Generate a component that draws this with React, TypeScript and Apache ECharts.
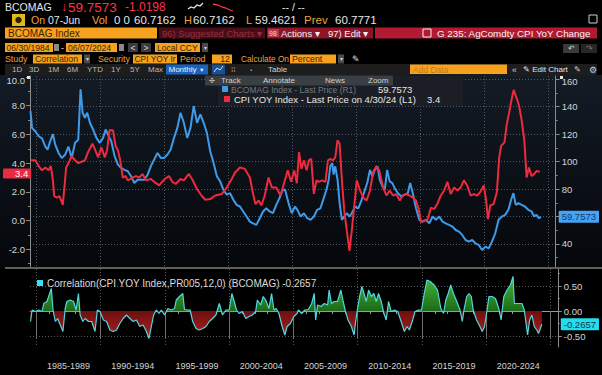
import React, { useEffect, useRef } from 'react';
import * as echarts from 'echarts';

// ---------- DATA ----------
const cpiDates = [
  1984.54, 1984.92, 1985.18, 1985.44, 1985.7, 1985.95, 1986.13, 1986.29, 1986.39, 1986.6,
  1986.8, 1986.98, 1987.06, 1987.24, 1987.32, 1987.5, 1987.76, 1988.02, 1988.27, 1988.53,
  1988.79, 1989.05, 1989.38, 1989.56, 1989.82, 1990.08, 1990.34, 1990.52, 1990.72, 1990.98,
  1991.19, 1991.37, 1991.55, 1991.75, 1991.96, 1992.14, 1992.53, 1992.78, 1993.04, 1993.3,
  1993.56, 1993.94, 1994.2, 1994.59, 1995.03, 1995.36, 1995.62, 1995.88, 1996.26, 1996.52,
  1996.91, 1997.16, 1997.55, 1997.94, 1998.2, 1998.58, 1998.97, 1999.48, 1999.87, 2000.26,
  2000.52, 2000.9, 2001.29, 2001.68, 2001.93, 2002.11, 2002.37, 2002.58, 2002.84, 2003.14,
  2003.4, 2003.74, 2004.07, 2004.38, 2004.64, 2004.9, 2005.15, 2005.35, 2005.52, 2005.7,
  2005.9, 2006.11, 2006.29, 2006.47, 2006.68, 2006.88, 2007.06, 2007.32, 2007.58, 2007.78,
  2007.96, 2008.17, 2008.35, 2008.53, 2008.69, 2008.87, 2009.05, 2009.25, 2009.46, 2009.64,
  2009.82, 2010.03, 2010.29, 2010.54, 2010.8, 2011.06, 2011.32, 2011.57, 2011.78, 2012.09,
  2012.35, 2012.6, 2012.86, 2013.12, 2013.38, 2013.63, 2013.89, 2014.15, 2014.41, 2014.66,
  2014.87, 2015.05, 2015.31, 2015.57, 2015.82, 2016.08, 2016.34, 2016.6, 2016.86, 2017.11,
  2017.37, 2017.63, 2017.89, 2018.14, 2018.4, 2018.66, 2018.92, 2019.18, 2019.43, 2019.69,
  2019.95, 2020.14, 2020.28, 2020.46, 2020.72, 2020.98, 2021.16, 2021.31, 2021.57, 2021.75,
  2021.93, 2022.14, 2022.29, 2022.53, 2022.71, 2022.91, 2023.12, 2023.3, 2023.48, 2023.69,
  2023.89, 2024.07, 2024.33,
];
const cpiValues = [
  4.2, 4.2, 3.8, 3.5, 3.7, 3.5, 3.8, 2.8, 1.7, 1.6,
  1.7, 1.3, 1.1, 2.8, 3.7, 4.0, 4.5, 4.2, 4.0, 4.1,
  4.2, 4.8, 5.35, 5.0, 4.4, 5.1, 4.4, 4.9, 6.3, 6.3,
  5.2, 4.9, 4.2, 3.0, 3.1, 2.8, 3.0, 3.1, 3.0, 3.25,
  2.8, 2.9, 2.7, 2.45, 2.9, 3.1, 2.7, 2.55, 2.9, 2.8,
  3.25, 2.9, 2.2, 1.7, 1.45, 1.5, 1.75, 1.85, 2.3, 2.9,
  3.35, 3.7, 3.6, 3.0, 1.85, 1.15, 1.4, 1.05, 1.75, 3.0,
  2.3, 2.3, 1.75, 2.7, 3.5, 2.7, 3.5, 2.6, 4.77, 3.6,
  4.2, 3.5, 4.2, 4.3, 1.86, 2.8, 2.7, 2.8, 2.7, 4.2,
  4.3, 4.2, 4.4, 5.6, 5.35, 2.8, 0.7, -0.7, -2.1, -0.7,
  0.9, 2.8, 2.1, 1.6, 1.4, 2.1, 3.4, 3.8, 3.5, 2.3,
  1.75, 2.1, 1.75, 1.85, 1.4, 1.75, 1.85, 1.75, 1.6, 1.4,
  0.8, -0.1, 0.0, 0.1, 0.9, 0.8, 1.2, 1.75, 2.1, 2.7,
  1.85, 2.3, 2.1, 2.3, 2.8, 2.45, 1.75, 1.85, 1.75, 2.0,
  2.45, 1.4, 0.1, 1.05, 1.15, 2.0, 4.4, 5.2, 5.45, 6.7,
  7.5, 8.5, 9.1, 8.5, 8.0, 7.0, 5.6, 3.0, 3.7, 3.1,
  3.25, 3.45, 3.4,
];

const bcomDates = [
  1984.54, 1984.66, 1984.92, 1985.18, 1985.44, 1985.7, 1985.88, 1986.08, 1986.29, 1986.47,
  1986.73, 1986.98, 1987.24, 1987.5, 1987.76, 1988.02, 1988.27, 1988.45, 1988.61, 1988.79,
  1988.97, 1989.18, 1989.43, 1989.69, 1989.95, 1990.21, 1990.41, 1990.59, 1990.85, 1991.11,
  1991.37, 1991.62, 1991.88, 1992.14, 1992.4, 1992.65, 1992.91, 1993.17, 1993.43, 1993.69,
  1993.94, 1994.2, 1994.46, 1994.72, 1994.97, 1995.23, 1995.49, 1995.75, 1996.01, 1996.26,
  1996.52, 1996.78, 1997.04, 1997.29, 1997.55, 1997.81, 1998.07, 1998.32, 1998.58, 1998.84,
  1999.1, 1999.36, 1999.61, 1999.87, 2000.13, 2000.39, 2000.64, 2000.9, 2001.16, 2001.42,
  2001.68, 2001.93, 2002.19, 2002.45, 2002.71, 2002.96, 2003.22, 2003.48, 2003.74, 2003.99,
  2004.25, 2004.43, 2004.7, 2004.95, 2005.21, 2005.39, 2005.64, 2005.9, 2006.16, 2006.42,
  2006.68, 2006.93, 2007.19, 2007.45, 2007.66, 2007.84, 2007.96, 2008.12, 2008.22, 2008.35,
  2008.53, 2008.69, 2008.87, 2009.05, 2009.25, 2009.46, 2009.64, 2009.9, 2010.15, 2010.41,
  2010.67, 2010.85, 2011.06, 2011.26, 2011.44, 2011.65, 2011.83, 2012.04, 2012.22, 2012.4,
  2012.6, 2012.81, 2012.99, 2013.25, 2013.51, 2013.76, 2014.02, 2014.2, 2014.41, 2014.66,
  2014.92, 2015.18, 2015.44, 2015.7, 2015.95, 2016.21, 2016.47, 2016.73, 2016.98, 2017.24,
  2017.5, 2017.76, 2018.02, 2018.27, 2018.53, 2018.79, 2019.05, 2019.3, 2019.56, 2019.82,
  2020.08, 2020.34, 2020.59, 2020.85, 2021.11, 2021.37, 2021.62, 2021.88, 2022.09, 2022.27,
  2022.45, 2022.65, 2022.91, 2023.17, 2023.43, 2023.69, 2023.89, 2024.07, 2024.25, 2024.43,
];
const bcomValues = [
  136.8, 124.6, 122, 118.5, 117, 111, 108.8, 115, 120, 112.4,
  106.3, 102.7, 105, 111, 102.7, 113.7, 116, 152.7, 135.6, 132,
  135.6, 128.3, 123.4, 117.3, 113.7, 117.3, 123.4, 119.8, 114.9, 104,
  97.8, 95.4, 94, 93, 89.3, 84.4, 86.8, 86.8, 86.8, 90.5,
  96.6, 101.5, 106.3, 102.7, 102.7, 105, 108.8, 117.3, 124.6, 135.6,
  128.3, 117.3, 124.6, 140.5, 128.3, 134.4, 128.3, 121, 107.6, 99,
  89.3, 85.6, 79.5, 75.9, 77, 72.2, 68.5, 67.3, 63.7, 60,
  56.3, 55, 53.9, 58.8, 63.7, 66, 63.7, 62.4, 68.5, 73.4,
  79.5, 79.5, 69.8, 62.4, 67.3, 64.9, 60, 62.4, 58.8, 57.6,
  60, 64.9, 66, 73.4, 79.5, 86.8, 96.6, 99, 90.5, 96.6,
  86.8, 69.8, 57.6, 60, 62.4, 60, 62.4, 67.3, 66, 72.2,
  79.5, 84.4, 94, 89.3, 94, 96.6, 86.8, 82, 79.5, 94,
  85.6, 84.4, 80.7, 77, 74.6, 75.9, 77, 84.4, 77, 66,
  57.6, 56.3, 57.6, 55, 60, 57.6, 60, 56.3, 55, 53.9,
  52.7, 50.2, 49, 46.6, 42.9, 41.7, 42.9, 40.5, 39.3, 35.6,
  38, 36.8, 41.7, 47.8, 57.6, 60, 61.2, 64.9, 72.2, 77,
  68.5, 69.8, 68.5, 67.3, 64.9, 63.7, 60, 61.2, 58.8, 59.7573,
];

const corrDates = [
  1984.54, 1984.66, 1984.92, 1985.18, 1985.44, 1985.57, 1985.82, 1986.03, 1986.16, 1986.29,
  1986.47, 1986.65, 1986.86, 1987.06, 1987.24, 1987.37, 1987.63, 1987.89, 1988.09, 1988.27,
  1988.4, 1988.61, 1988.79, 1989.05, 1989.3, 1989.56, 1989.74, 1989.95, 1990.21, 1990.46,
  1990.72, 1990.98, 1991.24, 1991.49, 1991.75, 1992.01, 1992.27, 1992.53, 1992.78, 1993.04,
  1993.3, 1993.56, 1993.76, 1993.94, 1994.12, 1994.33, 1994.54, 1994.72, 1994.97, 1995.23,
  1995.49, 1995.75, 1995.88, 1996.13, 1996.39, 1996.52, 1996.78, 1996.96, 1997.16, 1997.42,
  1997.68, 1997.94, 1998.2, 1998.45, 1998.71, 1998.97, 1999.23, 1999.48, 1999.74, 2000.0,
  2000.21, 2000.39, 2000.57, 2000.77, 2001.03, 2001.29, 2001.55, 2001.8, 2002.06, 2002.19,
  2002.45, 2002.65, 2002.84, 2003.09, 2003.3, 2003.48, 2003.66, 2003.87, 2004.12, 2004.33,
  2004.51, 2004.77, 2005.03, 2005.28, 2005.39, 2005.64, 2005.9, 2006.16, 2006.42, 2006.62,
  2006.73, 2006.88, 2007.14, 2007.4, 2007.66, 2007.78, 2007.96, 2008.17, 2008.43, 2008.69,
  2008.87, 2009.05, 2009.25, 2009.51, 2009.72, 2009.82, 2009.97, 2010.15, 2010.33, 2010.49,
  2010.67, 2010.85, 2011.06, 2011.26, 2011.44, 2011.62, 2011.83, 2012.04, 2012.22, 2012.4,
  2012.6, 2012.86, 2013.12, 2013.38, 2013.63, 2013.84, 2014.02, 2014.28, 2014.46, 2014.72,
  2014.97, 2015.18, 2015.39, 2015.64, 2015.95, 2016.21, 2016.47, 2016.68, 2016.86, 2017.04,
  2017.24, 2017.45, 2017.71, 2017.96, 2018.14, 2018.27, 2018.48, 2018.66, 2018.84, 2018.99,
  2019.25, 2019.51, 2019.69, 2019.87, 2020.03, 2020.21, 2020.46, 2020.72, 2020.98, 2021.16,
  2021.37, 2021.62, 2021.88, 2022.09, 2022.19, 2022.4, 2022.6, 2022.78, 2022.96, 2023.12,
  2023.22, 2023.38, 2023.56, 2023.74, 2023.94, 2024.07, 2024.33,
];
const corrValues = [
  -0.21, 0.02, -0.01, 0.02, -0.01, 0.15, 0.19, 0.35, 0.45, 0.02,
  -0.21, -0.15, -0.28, -0.41, 0.05, 0.19, 0.22, 0.19, 0.02, 0.35,
  -0.08, -0.21, -0.15, -0.21, -0.21, -0.41, 0.02, -0.01, -0.18, -0.21,
  -0.38, -0.41, -0.38, -0.25, -0.15, -0.08, -0.15, -0.21, -0.18, -0.31,
  -0.28, -0.41, -0.55, -0.31, -0.08, 0.02, -0.05, 0.02, -0.08, 0.05,
  0.02, 0.05, 0.22, 0.29, 0.35, 0.03, 0.02, 0.02, -0.21, -0.35,
  -0.38, -0.35, -0.31, -0.21, -0.15, -0.08, 0.15, -0.08, 0.02, 0.02,
  0.35, 0.19, 0.02, -0.05, -0.01, -0.15, -0.11, -0.08, -0.01, 0.22,
  0.12, 0.29, 0.22, 0.05, 0.35, 0.02, 0.05, -0.05, -0.31, -0.48,
  -0.31, -0.25, -0.11, -0.05, 0.02, -0.05, 0.02, 0.03, 0.15, 0.35,
  -0.18, 0.12, 0.09, 0.15, 0.12, 0.42, 0.15, 0.19, 0.19, 0.42,
  0.19, -0.01, -0.18, -0.31, -0.48, -0.25, 0.02, 0.29, 0.49, 0.35,
  0.19, 0.42, 0.29, 0.35, 0.19, 0.35, 0.19, -0.05, -0.18, 0.19,
  -0.01, 0.02, -0.01, -0.21, -0.41, -0.31, -0.38, -0.18, -0.01, 0.02,
  0.02, 0.35, 0.62, 0.59, 0.52, 0.42, 0.05, -0.05, 0.22, 0.35,
  0.52, 0.35, 0.19, 0.02, -0.21, 0.02, 0.29, 0.35, 0.29, 0.02,
  -0.18, -0.31, -0.41, -0.31, -0.05, 0.29, 0.29, 0.25, 0.05, -0.18,
  0.29, 0.42, 0.52, 0.69, 0.15, 0.15, 0.15, 0.15, 0.02, -0.28,
  -0.48, -0.18, -0.08, -0.31, -0.38, -0.45, -0.2657,
];

const leftTicks = [-2, 0, 2, 4, 6, 8, 10];
const leftMinorTicks = [-3, -1, 1, 3, 5, 7, 9];
const rightTicks = [40, 60, 80, 100, 120, 140, 160];
const rightLabelTicks = [40, 80, 100, 120, 140, 160];
const rightMinorTicks = [30, 50, 70, 90, 110, 130, 150];
const corrTicks = [-0.5, 0, 0.5];
const corrMinorTicks = [-0.25, 0.25, 0.75];
const yearTicks = [
  1985, 1986, 1987, 1988, 1989, 1990, 1991, 1992, 1993, 1994, 1995, 1996, 1997, 1998,
  1999, 2000, 2001, 2002, 2003, 2004, 2005, 2006, 2007, 2008, 2009, 2010, 2011, 2012,
  2013, 2014, 2015, 2016, 2017, 2018, 2019, 2020, 2021, 2022, 2023, 2024, 2025,
];
const periodStarts = [1985, 1990, 1995, 2000, 2005, 2010, 2015, 2020, 2025];
const periodLabels = ['1985-1989', '1990-1994', '1995-1999', '2000-2004', '2005-2009', '2010-2014', '2015-2019', '2020-2024'];
const periodMids = [1987.5, 1992.5, 1997.5, 2002.5, 2007.5, 2012.5, 2017.5, 2022.5];

const cpiLast = 3.4;
const bcomLast = 59.7573;
const corrLast = -0.2657;

// ---------- STYLE ----------
const FONT = '"Liberation Sans", Arial, Helvetica, sans-serif';
const ORANGE_TXT = '#f0a23a';
const BOX = '#f6a21e';
const BOX_TXT = '#3a2400';
const AXIS = '#8c8c8c';
const LABEL = '#d4d4d4';
const GRIDLINE = { color: '#525860', type: [1, 2] as any, width: 1 };

const X_MIN = 1984.5;
const X_MAX = 2025.57;
const L_MIN = -3.3;
const L_MAX = 10.07;

function txt(x: number, y: number, text: string, fill: string, size = 10, extra: any = {}, z = 50) {
  return {
    type: 'text',
    x,
    y,
    z,
    style: {
      text,
      fill,
      font: `${size}px ${FONT}`,
      verticalAlign: 'middle',
      textVerticalAlign: 'middle',
      align: extra.align || 'left',
      textAlign: extra.align || 'left',
      ...extra,
    },
  };
}
function box(x: number, y: number, w: number, h: number, fill: any, z = 40, extra: any = {}) {
  return { type: 'rect', z, shape: { x, y, width: w, height: h }, style: { fill, ...extra } };
}

function buildOption() {
  const cpiData = cpiDates.map((d, i) => [d, cpiValues[i]]);
  const bcomData = bcomDates.map((d, i) => [d, bcomValues[i]]);
  const corrData = corrDates.map((d, i) => [d, corrValues[i]]);
  const cMax = Math.max(...corrValues);
  const cMin = Math.min(...corrValues);
  const zeroOff = cMax / (cMax - cMin);

  const graphic: any[] = [
    // plot background
    box(0, 75, 602, 193, new echarts.graphic.LinearGradient(0, 0, 0, 1, [
      { offset: 0, color: '#131b25' },
      { offset: 1, color: '#05070b' },
    ]), -100),
    // row 1
    txt(5, 7, 'BCOMAG', '#e6e6e6', 10.5),
    txt(61, 7, '↓', '#ff3346', 12),
    txt(68, 7, '59.7573', '#ff3346', 13.5),
    txt(125, 7, '-1.0198', '#ff3346', 12),
    { type: 'polyline', z: 50, shape: { points: [[188, 9], [191, 7], [194, 8], [197, 5], [200, 6], [203, 3]] }, style: { stroke: '#e6e6e6', lineWidth: 1.3, fill: 'none' } },
    { type: 'polyline', z: 50, shape: { points: [[213, 4], [218, 5], [222, 7], [226, 8], [230, 10], [233, 11]] }, style: { stroke: '#ff3346', lineWidth: 1.3, fill: 'none' } },
    txt(282, 7, '-- / --', '#e6e6e6', 10.5),
    box(589, 15, 8, 8, 'none', 50, { stroke: '#cfcfcf', lineWidth: 1 }),
    // row 2
    box(12, 14, 13, 12, '#e3b81c', 40),
    { type: 'circle', z: 45, shape: { cx: 18.5, cy: 20, r: 3.2 }, style: { fill: '#2a2200' } },
    txt(31, 20, 'On', ORANGE_TXT, 10.5),
    txt(48, 20, '07-Jun', '#e6e6e6', 10.5),
    txt(92, 20, 'Vol', ORANGE_TXT, 11),
    txt(114, 20, '0 0', '#e6e6e6', 11.5),
    txt(134, 20, '60.7162', '#e6e6e6', 11.5),
    txt(184, 20, 'H', ORANGE_TXT, 11),
    txt(193, 20, '60.7162', '#e6e6e6', 11.5),
    txt(246, 20, 'L', ORANGE_TXT, 11),
    txt(255, 20, '59.4621', '#e6e6e6', 11.5),
    txt(304, 20, 'Prev', ORANGE_TXT, 11.5),
    txt(335, 20, '60.7771', '#e6e6e6', 11.5),
    // row 3
    box(5, 27.5, 152, 11, BOX),
    txt(8, 33, 'BCOMAG Index', BOX_TXT, 10),
    box(159, 27.5, 106, 11, '#4a0d18'),
    txt(162, 33, '96) Suggested Charts ▾', '#94303f', 9.5),
    box(267, 27.5, 106, 11, '#8e1427'),
    box(268, 29, 11, 8, '#b2384a', 41),
    txt(269, 33, '98', '#f0d0d4', 7),
    txt(281, 33, 'Actions ▾', '#f2f2f2', 9.5),
    txt(328, 33, '97) Edit ▾', '#f2f2f2', 9.5),
    box(375, 27.5, 222, 11, '#b11a30'),
    box(423, 29, 8, 8, 'none', 45, { stroke: '#f2f2f2', lineWidth: 1 }),
    txt(437, 33, 'G 235: AgComdty CPI YoY Change', '#f4f4f4', 9.8),
    // row 4
    box(5, 43, 48, 9, BOX),
    txt(6.5, 47.5, '06/30/1984', BOX_TXT, 8.6),
    box(54, 44, 5, 7, '#8a8a8a'),
    txt(61, 47.5, '-', '#e6e6e6', 9),
    box(66, 43, 51, 9, BOX),
    txt(68, 47.5, '06/07/2024', BOX_TXT, 8.6),
    box(119, 44, 5, 7, '#8a8a8a'),
    box(128, 43, 10, 9, '#3b3b3b'),
    txt(133, 47.5, '<', '#dcdcdc', 8.5, { align: 'center' }),
    box(141, 43, 10, 9, '#3b3b3b'),
    txt(146, 47.5, '>', '#dcdcdc', 8.5, { align: 'center' }),
    box(155, 43, 45, 9, BOX),
    txt(157, 47.5, 'Local CCY', BOX_TXT, 8.5),
    box(202, 43, 6, 9, '#4a4a4a'),
    txt(205, 47.5, '▾', '#cfcfcf', 6, { align: 'center' }),
    box(563, 44, 16, 9, '#3a3a3a'),
    txt(571, 48.5, '↶', '#cfcfcf', 8, { align: 'center' }),
    box(581, 44, 16, 9, '#262626'),
    txt(589, 48.5, '↷', '#777777', 8, { align: 'center' }),
    // row 5
    txt(5, 59, 'Study', ORANGE_TXT, 8.8),
    box(33, 54.5, 49, 9, BOX),
    txt(35, 59, 'Correlation', BOX_TXT, 8.8),
    box(84, 54.5, 6, 9, '#4a4a4a'),
    txt(87, 59, '▾', '#cfcfcf', 6, { align: 'center' }),
    txt(98, 59, 'Security', ORANGE_TXT, 8.8),
    box(133, 54.5, 44, 9, BOX),
    txt(134.5, 59, 'CPI YOY Ir', BOX_TXT, 8.4),
    txt(180, 59, 'Period', ORANGE_TXT, 8.8),
    box(212, 54.5, 20, 9, BOX),
    txt(230, 59, '12', BOX_TXT, 8.8, { align: 'right' }),
    txt(241, 59, 'Calculate On', ORANGE_TXT, 8.3),
    box(290, 54.5, 46, 9, BOX),
    txt(292, 59, 'Percent', BOX_TXT, 8.8),
    box(338, 54.5, 6, 9, '#4a4a4a'),
    txt(341, 59, '▾', '#cfcfcf', 6, { align: 'center' }),
    txt(352, 59, '✎', '#e6e6e6', 8.5),
    // row 6
    box(5, 64, 592, 11, '#1d1d1d', 30),
    txt(12, 69.5, '1D', '#b8b8b8', 8),
    txt(29, 69.5, '3D', '#b8b8b8', 8),
    txt(48, 69.5, '1M', '#b8b8b8', 8),
    txt(67, 69.5, '6M', '#b8b8b8', 8),
    txt(87, 69.5, 'YTD', '#b8b8b8', 8),
    txt(111, 69.5, '1Y', '#b8b8b8', 8),
    txt(130, 69.5, '5Y', '#b8b8b8', 8),
    txt(148, 69.5, 'Max', '#b8b8b8', 8),
    box(166, 64.5, 42, 10, '#1763c0'),
    txt(168.5, 69.5, 'Monthly', '#f2f2f2', 8),
    txt(199, 69.5, '▼', '#f2f2f2', 5.5),
    box(212, 64.5, 13, 10, '#1b4f94'),
    { type: 'polyline', z: 50, shape: { points: [[214, 72], [217, 68], [220, 70], [223, 66]] }, style: { stroke: '#cfe0ff', lineWidth: 1, fill: 'none' } },
    txt(231, 69.5, '⁞⁞', '#b8b8b8', 8),
    txt(250, 69.5, '▪', '#9a9a9a', 6),
    txt(268, 69.5, 'Table', '#d0d0d0', 8),
    box(410, 64.5, 97, 9.5, BOX),
    txt(413, 69.5, 'Add Data', '#c57c12', 8.5),
    txt(512, 69.5, '«', '#d0d0d0', 8.5),
    txt(523, 69.5, '✎ Edit Chart', '#e6e6e6', 8),
    txt(574, 69.5, '✎', '#d0d0d0', 8),
    txt(589, 69.5, '⚙', '#d0d0d0', 8.5),
    // axis top flags
    box(27, 76, 3, 3, '#e6e6e6', 20),
    box(560, 76, 3, 3, '#e6e6e6', 20),
    // main legend
    box(218, 76, 245, 30, 'rgba(28,32,38,0.93)', 60),
    box(205, 75.5, 188, 10, 'rgba(62,66,72,0.9)', 62),
    txt(209, 80.5, '✣', '#c8c8c8', 7, {}, 63),
    txt(221, 80.5, 'Track', '#d0d0d0', 8, {}, 63),
    txt(263, 80.5, 'Annotate', '#d0d0d0', 8, {}, 63),
    txt(325, 80.5, 'News', '#d0d0d0', 8, {}, 63),
    txt(368, 80.5, 'Zoom', '#d0d0d0', 8, {}, 63),
    box(222, 86, 6, 6, '#3f9ae8', 61),
    txt(231, 89.5, 'BCOMAG Index - Last Price (R1)', 'rgba(190,200,210,0.55)', 8.5, {}, 61),
    txt(378, 89.5, '59.7573', '#e6e6e6', 9.5, {}, 63),
    box(224, 96, 6, 6, '#ee2a3e', 61),
    txt(234, 99.5, 'CPI YOY Index - Last Price on 4/30/24 (L1)', '#e6e6e6', 9.5, {}, 61),
    txt(427, 99.5, '3.4', '#e6e6e6', 9.5, {}, 61),
    // separator
    box(5, 267, 597, 2, '#5e5e5e', 30),
    // correlation legend
    box(37, 280, 6, 6, '#2fe3f2', 50),
    txt(47, 283.5, 'Correlation(CPI YOY Index,PR005,12,0) (BCOMAG) -0.2657', '#dadada', 10),
  ];

  const tag = (bg: string, color: string, padding: number[]) => ({
    backgroundColor: bg,
    color,
    padding,
    borderRadius: 1,
    fontSize: 9.5,
    fontFamily: FONT,
  });

  return {
    animation: false,
    backgroundColor: '#000000',
    textStyle: { fontFamily: FONT },
    graphic,
    grid: [
      { left: 30, right: 42, top: 76, height: 192 },
      { left: 30, right: 42, top: 269, height: 78 },
      // same scale as grid 0, nudged down: holds the left last-value tag
      { left: 30, right: 42, top: 77.8, height: 192 },
    ],
    xAxis: [
      {
        gridIndex: 0, type: 'value', min: X_MIN, max: X_MAX,
        axisLine: { show: false },
        axisTick: { show: false, customValues: periodStarts },
        axisLabel: { show: false },
        splitLine: { show: true, lineStyle: GRIDLINE },
      },
      {
        gridIndex: 1, type: 'value', min: X_MIN, max: X_MAX,
        axisLine: { show: true, lineStyle: { color: '#9a9a9a' } },
        axisTick: { show: true, customValues: yearTicks, length: 3, lineStyle: { color: '#9a9a9a' } },
        axisLabel: {
          show: true, customValues: periodMids, color: LABEL, fontSize: 9, margin: 14,
          formatter: (v: number) => periodLabels[Math.round((v - 1987.5) / 5)] || '',
        },
        splitLine: { show: false },
      },
      {
        gridIndex: 1, type: 'value', min: X_MIN, max: X_MAX, position: 'bottom',
        axisLine: { show: false },
        axisTick: { show: true, customValues: periodStarts, length: 28, lineStyle: { color: '#6e6e6e' } },
        axisLabel: { show: false },
        splitLine: { show: true, lineStyle: GRIDLINE },
      },
      {
        gridIndex: 2, type: 'value', min: X_MIN, max: X_MAX, show: false,
      },
    ],
    yAxis: [
      { // 0 left CPI
        gridIndex: 0, type: 'value', position: 'left', min: L_MIN, max: L_MAX,
        axisLine: { show: true, lineStyle: { color: AXIS } },
        axisTick: { show: true, customValues: leftTicks, length: 4, lineStyle: { color: AXIS } },
        axisLabel: {
          show: true, customValues: leftTicks, color: LABEL, fontSize: 9.5, margin: 5,
          formatter: (v: number) => (v === 10 ? '{top|10.0}' : v.toFixed(1)),
          rich: { top: { padding: [7, 0, 0, 0], color: LABEL, fontSize: 9.5 } },
        },
        splitLine: { show: false },
      },
      { // 1 left minor ticks
        gridIndex: 0, type: 'value', position: 'left', min: L_MIN, max: L_MAX,
        axisLine: { show: false },
        axisTick: { show: true, customValues: leftMinorTicks, length: 2, lineStyle: { color: AXIS } },
        axisLabel: { show: false },
        splitLine: { show: false },
      },
      { // 2 left last-value tag
        gridIndex: 2, type: 'value', position: 'left', min: L_MIN, max: L_MAX,
        axisLine: { show: false },
        axisTick: { show: false },
        axisLabel: {
          show: true, customValues: [cpiLast], margin: 3,
          formatter: (v: number) => String(v),
          ...tag('#ea2a40', '#ffffff', [0, 3, 0, 12]),
        },
        splitLine: { show: false },
      },
      { // 3 right BCOMAG
        gridIndex: 0, type: 'value', position: 'right', min: 22.5, max: 162.4,
        axisLine: { show: true, lineStyle: { color: AXIS } },
        axisTick: { show: true, customValues: rightTicks, length: 4, lineStyle: { color: AXIS } },
        axisLabel: {
          show: true, customValues: rightLabelTicks, color: LABEL, fontSize: 9.5, margin: 6,
          formatter: (v: number) => (v === 160 ? '{top|160}' : String(v)),
          rich: { top: { padding: [4, 0, 0, 0], color: LABEL, fontSize: 9.5 } },
        },
        splitLine: { show: true, lineStyle: GRIDLINE },
      },
      { // 4 right minor ticks
        gridIndex: 0, type: 'value', position: 'right', min: 22.5, max: 162.4,
        axisLine: { show: false },
        axisTick: { show: true, customValues: rightMinorTicks, length: 2, lineStyle: { color: AXIS } },
        axisLabel: { show: false },
        splitLine: { show: false },
      },
      { // 5 right last-value tag
        gridIndex: 0, type: 'value', position: 'right', min: 22.5, max: 162.4,
        axisLine: { show: false },
        axisTick: { show: false },
        axisLabel: {
          show: true, customValues: [bcomLast], margin: 3,
          formatter: (v: number) => v.toFixed(4),
          ...tag('#46a2f2', '#0f3a6e', [1, 3, 1, 3]),
        },
        splitLine: { show: false },
      },
      { // 6 correlation
        gridIndex: 1, type: 'value', position: 'right', min: -0.72, max: 0.84,
        axisLine: { show: true, lineStyle: { color: AXIS } },
        axisTick: { show: true, customValues: corrTicks, length: 4, lineStyle: { color: AXIS } },
        axisLabel: {
          show: true, customValues: corrTicks, color: LABEL, fontSize: 9.5, margin: 6,
          formatter: (v: number) => v.toFixed(2),
        },
        splitLine: { show: true, lineStyle: GRIDLINE },
      },
      { // 7 correlation minor
        gridIndex: 1, type: 'value', position: 'right', min: -0.72, max: 0.84,
        axisLine: { show: false },
        axisTick: { show: true, customValues: corrMinorTicks, length: 2, lineStyle: { color: AXIS } },
        axisLabel: { show: false },
        splitLine: { show: false },
      },
      { // 8 correlation tag
        gridIndex: 1, type: 'value', position: 'right', min: -0.72, max: 0.84,
        axisLine: { show: false },
        axisTick: { show: false },
        axisLabel: {
          show: true, customValues: [corrLast], margin: 3,
          formatter: (v: number) => v.toFixed(4),
          ...tag('#24dcec', '#0b3944', [1, 3, 1, 3]),
        },
        splitLine: { show: false },
      },
    ],
    series: [
      {
        type: 'line', name: 'BCOMAG Index', xAxisIndex: 0, yAxisIndex: 3, data: bcomData,
        symbol: 'none', showSymbol: false, lineStyle: { color: '#3f9ae8', width: 2 }, z: 3,
      },
      {
        type: 'line', name: 'CPI YOY Index', xAxisIndex: 0, yAxisIndex: 0, data: cpiData,
        symbol: 'none', showSymbol: false, lineStyle: { color: '#ee2a3e', width: 2 }, z: 4,
      },
      {
        type: 'line', name: 'Correlation', xAxisIndex: 1, yAxisIndex: 6, data: corrData,
        symbol: 'none', showSymbol: false, lineStyle: { color: '#4fd8e2', width: 1.2 }, z: 3,
        areaStyle: {
          origin: 0,
          opacity: 1,
          color: new echarts.graphic.LinearGradient(0, 0, 0, 1, [
            { offset: 0, color: '#47b83b' },
            { offset: zeroOff, color: '#1c6a18' },
            { offset: zeroOff, color: '#6e0f10' },
            { offset: 1, color: '#b21f20' },
          ]),
        },
      },
    ],
  };
}

export default function App() {
  const ref = useRef<HTMLDivElement>(null);
  useEffect(() => {
    document.body.style.margin = '0';
    document.body.style.background = '#000';
    const chart = echarts.init(ref.current!, undefined, { renderer: 'svg' });
    chart.setOption(buildOption() as any);
    return () => chart.dispose();
  }, []);
  return (
    <div
      ref={ref}
      style={{ width: 602, height: 375, position: 'absolute', left: 0, top: 0, background: '#000' }}
    />
  );
}
